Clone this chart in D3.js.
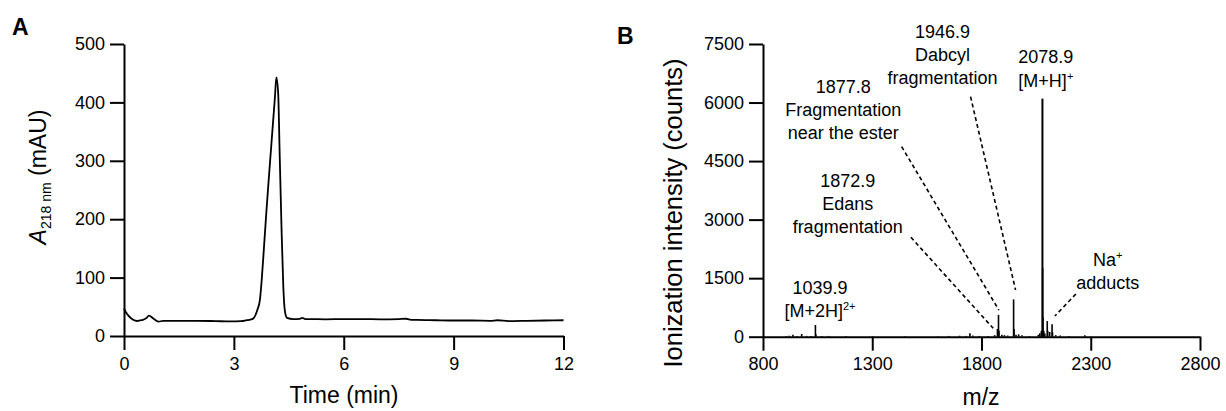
<!DOCTYPE html>
<html>
<head>
<meta charset="utf-8">
<script src="https://cdn.jsdelivr.net/npm/d3@7"></script>
<style>
  html, body { margin: 0; padding: 0; background: #fff; }
  svg { display: block; font-family: "Liberation Sans", Arial, sans-serif; }
  .tick text { font-size: 18px; fill: #000; }
  .domain, .tick line { stroke: #000; stroke-width: 2; }
</style>
</head>
<body>
<svg id="chart" width="1226" height="411"></svg>
<script>
// ---------- Panel A: HPLC chromatogram ----------
const timeMin = [0, 0.07, 0.2, 0.35, 0.48, 0.62, 0.68, 0.8, 0.94, 1.07, 1.5, 1.98, 2.5, 2.89, 3.2, 3.35, 3.45, 3.53, 3.64, 3.71, 3.76, 3.82, 3.89, 3.96, 4.05, 4.12, 4.16, 4.21, 4.25, 4.3, 4.35, 4.39, 4.45, 4.62, 4.8, 4.87, 4.95, 5.07, 5.5, 6, 6.5, 7, 7.5, 7.7, 7.8, 8, 8.5, 9, 9.5, 10, 10.2, 10.5, 11, 11.5, 12];
const absorbance = [47, 39, 30, 25.7, 27, 31, 35, 30, 24.5, 26, 26, 26, 25.5, 25, 25.5, 27, 28, 30, 44.5, 61.6, 96, 150, 215, 275, 350, 408, 443, 415, 313, 187, 84, 44.5, 31, 29, 29.5, 31, 29, 29, 28.5, 29, 29, 28.5, 29, 29.5, 28, 27.5, 27, 26.5, 26.5, 26, 27, 25.5, 26, 26.5, 27];
const aTicksX = [0, 3, 6, 9, 12];
const aTicksY = [0, 100, 200, 300, 400, 500];

// ---------- Panel B: MALDI mass spectrum (stick peaks) ----------
const mzValues = [905, 920, 937, 955, 977, 1000, 1020, 1039.9, 1042, 1070, 1100, 1180, 1300, 1450, 1600, 1650, 1700, 1730, 1747, 1760, 1790, 1830, 1860, 1872.9, 1877.8, 1880, 1893, 1905, 1920, 1946.9, 1949, 1958, 1970, 1985, 2020, 2060, 2067, 2074, 2078.9, 2079.9, 2081, 2085, 2090, 2100.9, 2103, 2112, 2122.9, 2125, 2140, 2160, 2200, 2273];
const intensity = [15, 25, 50, 20, 70, 20, 15, 300, 60, 15, 20, 15, 10, 10, 12, 20, 25, 20, 90, 30, 20, 15, 40, 200, 560, 150, 50, 40, 30, 955, 200, 50, 60, 40, 20, 50, 90, 150, 6100, 1750, 500, 150, 80, 400, 150, 120, 320, 110, 40, 30, 20, 35];
const bTicksX = [800, 1300, 1800, 2300, 2800];
const bTicksY = [0, 1500, 3000, 4500, 6000, 7500];

// annotations: text lines ("|" marks a superscript), anchor (m/z, counts) of first-line baseline
const annoLines = [
  ["1039.9", "[M+2H]|2+"],
  ["1872.9", "Edans", "fragmentation"],
  ["1877.8", "Fragmentation", "near the ester"],
  ["1946.9", "Dabcyl", "fragmentation"],
  ["2078.9", "[M+H]|+"],
  ["Na|+", "adducts"]
];
const annoMz = [1060.7, 1187.5, 1167, 1622, 2094.5, 2378];
const annoCounts = [1094, 3844, 6252, 7662, 7006, 1819];

// dashed leader lines
const leaderFromMz = [1477, 1434.5, 1750, 2232];
const leaderFromCounts = [2547, 4869, 6150, 1094];
const leaderToMz = [1853.5, 1879.6, 1956, 2135.8];
const leaderToCounts = [215, 683, 1197, 530];

const svg = d3.select("#chart");

// ---------- draw A ----------
const xA = d3.scaleLinear().domain([0, 12]).range([124, 563.5]);
const yA = d3.scaleLinear().domain([0, 500]).range([336, 44]);

const gA = svg.append("g");
gA.append("g").attr("transform", `translate(0,${yA(0)})`)
  .call(d3.axisBottom(xA).tickValues(aTicksX).tickSize(14).tickSizeOuter(0).tickPadding(7).tickFormat(d3.format("d")));
gA.append("g").attr("transform", `translate(${xA(0)},0)`)
  .call(d3.axisLeft(yA).tickValues(aTicksY).tickSize(14).tickSizeOuter(0).tickPadding(5).tickFormat(d3.format("d")));

const lineA = d3.line().x((d, i) => xA(timeMin[i])).y(d => yA(d)).curve(d3.curveMonotoneX);
gA.append("path").datum(absorbance).attr("d", lineA)
  .attr("fill", "none").attr("stroke", "#000").attr("stroke-width", 1.8).attr("stroke-linejoin", "round");

svg.append("text").attr("x", 12).attr("y", 35).attr("font-size", 23).attr("font-weight", "bold").text("A");
svg.append("text").attr("x", 344).attr("y", 403).attr("text-anchor", "middle").attr("font-size", 23).text("Time (min)");

const yTitleA = svg.append("text").attr("transform", "translate(46,177) rotate(-90)")
  .attr("text-anchor", "middle").attr("font-size", 23);
yTitleA.append("tspan").attr("font-style", "italic").text("A");
yTitleA.append("tspan").attr("font-size", 14).attr("dy", 5).text("218 nm");
yTitleA.append("tspan").attr("dy", -5).text(" (mAU)");

// ---------- draw B ----------
const xB = d3.scaleLinear().domain([800, 2800]).range([763, 1200]);
const yB = d3.scaleLinear().domain([0, 7500]).range([336.7, 44]);

const gB = svg.append("g");
gB.append("g").attr("transform", `translate(0,${yB(0)})`)
  .call(d3.axisBottom(xB).tickValues(bTicksX).tickSize(14).tickSizeOuter(0).tickPadding(7).tickFormat(d3.format("d")));
gB.append("g").attr("transform", `translate(${xB(800)},0)`)
  .call(d3.axisLeft(yB).tickValues(bTicksY).tickSize(14).tickSizeOuter(0).tickPadding(5).tickFormat(d3.format("d")));

gB.append("g").selectAll("line").data(mzValues).join("line")
  .attr("x1", d => xB(d)).attr("x2", d => xB(d))
  .attr("y1", yB(0)).attr("y2", (d, i) => yB(intensity[i]))
  .attr("stroke", "#000").attr("stroke-width", (d, i) => intensity[i] > 3000 ? 2 : 1.6);

gB.append("g").selectAll("line").data(leaderFromMz).join("line")
  .attr("x1", d => xB(d)).attr("y1", (d, i) => yB(leaderFromCounts[i]))
  .attr("x2", (d, i) => xB(leaderToMz[i])).attr("y2", (d, i) => yB(leaderToCounts[i]))
  .attr("stroke", "#000").attr("stroke-width", 1.6).attr("stroke-dasharray", "4,3");

const lineH = 23.3, supShift = 7;
annoLines.forEach((lines, i) => {
  const x0 = xB(annoMz[i]);
  const y0 = yB(annoCounts[i]);
  lines.forEach((ln, j) => {
    const parts = ln.split("|");
    const t = gB.append("text").attr("text-anchor", "middle").attr("font-size", 18)
      .attr("x", x0).attr("y", y0 + j * lineH);
    t.append("tspan").text(parts[0]);
    if (parts[1]) {
      t.append("tspan").attr("font-size", 11).attr("dy", -supShift).text(parts[1]);
    }
  });
});

svg.append("text").attr("x", 617).attr("y", 44).attr("font-size", 23).attr("font-weight", "bold").text("B");
svg.append("text").attr("x", 981).attr("y", 405).attr("text-anchor", "middle").attr("font-size", 23).text("m/z");
svg.append("text").attr("transform", "translate(682,213) rotate(-90)")
  .attr("text-anchor", "middle").attr("font-size", 25.5).text("Ionization intensity (counts)");
</script>
</body>
</html>
